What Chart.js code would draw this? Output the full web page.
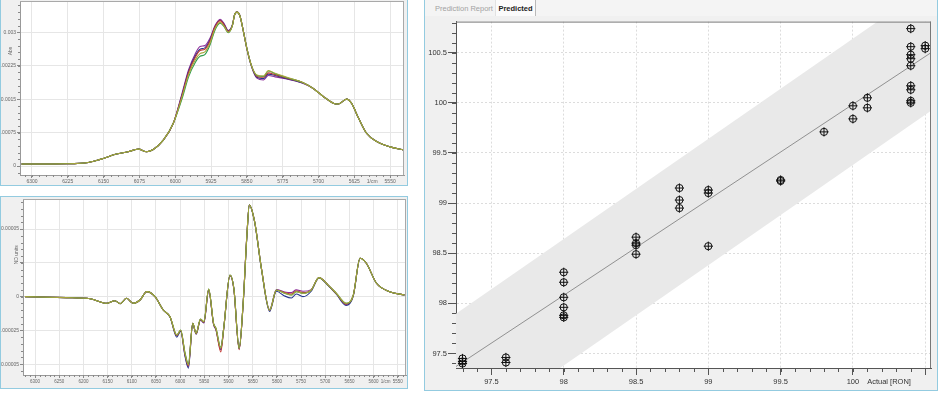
<!DOCTYPE html>
<html>
<head>
<meta charset="utf-8">
<title>NIR spectra and RON prediction</title>
<script src="https://cdn.jsdelivr.net/npm/chart.js@4.4.1/dist/chart.umd.min.js"></script>
<style>
  body { margin: 0; width: 950px; height: 394px; background: #fff; position: relative; overflow: hidden; font-family: "Liberation Sans", Arial, sans-serif; }
  .panel { position: absolute; box-sizing: border-box; border: 1px solid #93cbe0; background: #f0f0f0; }
  .panel canvas { position: absolute; left: 0; }
  #absPanel { left: 0; top: -1px; width: 408px; height: 187px; }
  #derPanel { left: 0; top: 196px; width: 408px; height: 193px; }
  #predPanel { left: 424px; top: -1px; width: 514px; height: 392px; }
  .tabs { position: absolute; left: 0; top: 0; right: 0; height: 16px; background: #f4f4f4; font-size: 7.5px; }
  .tab { position: absolute; top: 0; height: 16px; line-height: 17px; }
  .tab.off { left: 10px; color: #a3a3a3; }
  .tab.on { left: 70px; width: 39px; text-align: center; color: #222; font-weight: bold; background: #fbfbfb; border-right: 1px solid #b9b9b9; border-left: 1px solid #e2e2e2; }
</style>
</head>
<body>
<div class="panel" id="absPanel"><canvas id="absChart" width="406" height="185" style="top:0"></canvas></div>
<div class="panel" id="derPanel"><canvas id="derChart" width="406" height="191" style="top:0"></canvas></div>
<div class="panel" id="predPanel">
  <div class="tabs"><span class="tab off">Prediction Report</span><span class="tab on">Predicted</span></div>
  <canvas id="predChart" width="512" height="374" style="top:16px"></canvas>
</div>
<script>
// Absorbance spectra (top left)
const absWavenumbers = [6322, 6227, 6182, 6157, 6123, 6099, 6077, 6060, 6046, 6025, 6004, 5986, 5972, 5958, 5948, 5938, 5927, 5917, 5906, 5898, 5889, 5880, 5876, 5871, 5865, 5858, 5850, 5840, 5829, 5815, 5805, 5791, 5766, 5732, 5711, 5690, 5669, 5659, 5641, 5631, 5616, 5599, 5578, 5550, 5522];
const absOlive = [0.000045, 0.000052, 0.000082, 0.00015, 0.00027, 0.00032, 0.00038, 0.00032, 0.00037, 0.00058, 0.00096, 0.00154, 0.00205, 0.00238, 0.00252, 0.00256, 0.00276, 0.00307, 0.00322, 0.00314, 0.00300, 0.00316, 0.00338, 0.00345, 0.00338, 0.00306, 0.00264, 0.00224, 0.00204, 0.00202, 0.00214, 0.00208, 0.00199, 0.00187, 0.00174, 0.00156, 0.00141, 0.00139, 0.00150, 0.00141, 0.00107, 0.00073, 0.00055, 0.00043, 0.00036];
const absGreen = [0.000045, 0.000052, 0.000082, 0.00015, 0.00027, 0.00032, 0.00038, 0.00032, 0.00037, 0.00058, 0.00096, 0.00150, 0.00200, 0.00232, 0.00246, 0.00250, 0.00272, 0.00304, 0.00320, 0.00313, 0.00299, 0.00316, 0.00338, 0.00345, 0.00338, 0.00306, 0.00264, 0.00224, 0.00203, 0.00201, 0.00213, 0.00207, 0.00198, 0.00187, 0.00174, 0.00156, 0.00141, 0.00139, 0.00150, 0.00141, 0.00107, 0.00073, 0.00055, 0.00043, 0.00036];
const absRed = [0.000045, 0.000052, 0.000082, 0.00015, 0.00027, 0.00032, 0.00038, 0.00032, 0.00037, 0.00058, 0.00096, 0.00157, 0.00210, 0.00244, 0.00259, 0.00262, 0.00281, 0.00311, 0.00326, 0.00317, 0.00302, 0.00316, 0.00338, 0.00345, 0.00338, 0.00306, 0.00264, 0.00224, 0.00201, 0.00199, 0.00209, 0.00205, 0.00197, 0.00187, 0.00174, 0.00156, 0.00141, 0.00139, 0.00150, 0.00141, 0.00107, 0.00073, 0.00055, 0.00043, 0.00036];
const absBlue = [0.000045, 0.000052, 0.000082, 0.00015, 0.00027, 0.00032, 0.00038, 0.00032, 0.00037, 0.00058, 0.00096, 0.00159, 0.00212, 0.00247, 0.00262, 0.00265, 0.00283, 0.00312, 0.00327, 0.00318, 0.00303, 0.00317, 0.00338, 0.00345, 0.00338, 0.00306, 0.00264, 0.00223, 0.00199, 0.00196, 0.00206, 0.00203, 0.00196, 0.00186, 0.00174, 0.00156, 0.00141, 0.00139, 0.00150, 0.00141, 0.00107, 0.00073, 0.00055, 0.00043, 0.00036];
const absPurple = [0.000045, 0.000052, 0.000082, 0.00015, 0.00027, 0.00032, 0.00038, 0.00032, 0.00037, 0.00058, 0.00096, 0.00162, 0.00216, 0.00252, 0.00268, 0.00270, 0.00287, 0.00314, 0.00329, 0.00320, 0.00304, 0.00318, 0.00339, 0.00346, 0.00339, 0.00306, 0.00262, 0.00222, 0.00197, 0.00193, 0.00203, 0.00200, 0.00195, 0.00185, 0.00174, 0.00156, 0.00141, 0.00139, 0.00150, 0.00141, 0.00107, 0.00073, 0.00055, 0.00043, 0.00036];
const absXTicks = [6300, 6225, 6150, 6075, 6000, 5925, 5850, 5775, 5700, 5625, 5550];
const absYTicks = [0, 0.00075, 0.0015, 0.00225, 0.003];
const absYLabels = ['0', '0.00075', '0.0015', '0.00225', '0.003'];

// First derivative spectra (bottom left)
const derWavenumbers = [6321, 6235, 6186, 6152, 6135, 6124, 6111, 6097, 6083, 6069, 6052, 6035, 6021, 6007, 5999, 5990, 5983, 5974, 5967, 5958, 5951, 5941, 5931, 5926, 5916, 5910, 5897, 5889, 5878, 5870, 5862, 5857, 5846, 5832, 5815, 5801, 5784, 5770, 5760, 5746, 5729, 5713, 5694, 5677, 5657, 5642, 5628, 5615, 5594, 5567, 5536];
const derOlive = [0, -0.0000007, -0.0000015, -0.0000049, -0.0000030, -0.0000052, -0.0000012, -0.0000049, -0.0000025, 0.0000037, 0, -0.0000099, -0.0000148, -0.0000284, -0.0000247, -0.0000420, -0.0000505, -0.0000197, -0.0000271, -0.0000165, -0.0000185, 0.0000057, -0.0000197, -0.0000234, -0.0000382, -0.0000234, 0.0000160, 0.0000062, -0.0000382, -0.0000062, 0.0000456, 0.0000678, 0.0000555, 0.0000210, -0.0000099, 0.0000049, 0.0000025, 0.0000012, 0.0000037, 0.0000025, 0.0000049, 0.0000141, 0.0000086, 0.0000025, -0.0000049, 0.0000012, 0.0000284, 0.0000247, 0.0000099, 0.0000037, 0.0000012];
const derGreen = [0, -0.0000007, -0.0000015, -0.0000049, -0.0000030, -0.0000052, -0.0000012, -0.0000049, -0.0000025, 0.0000037, 0, -0.0000099, -0.0000148, -0.0000284, -0.0000247, -0.0000415, -0.0000498, -0.0000197, -0.0000271, -0.0000165, -0.0000185, 0.0000057, -0.0000197, -0.0000234, -0.0000375, -0.0000234, 0.0000160, 0.0000062, -0.0000382, -0.0000062, 0.0000450, 0.0000678, 0.0000555, 0.0000210, -0.0000099, 0.0000049, 0.0000025, 0.0000012, 0.0000037, 0.0000025, 0.0000049, 0.0000141, 0.0000086, 0.0000025, -0.0000049, 0.0000012, 0.0000284, 0.0000247, 0.0000099, 0.0000037, 0.0000012];
const derRed = [0, -0.0000007, -0.0000015, -0.0000049, -0.0000030, -0.0000052, -0.0000012, -0.0000049, -0.0000025, 0.0000037, 0, -0.0000099, -0.0000148, -0.0000288, -0.0000250, -0.0000425, -0.0000512, -0.0000197, -0.0000275, -0.0000168, -0.0000190, 0.0000052, -0.0000200, -0.0000240, -0.0000410, -0.0000238, 0.0000158, 0.0000060, -0.0000392, -0.0000064, 0.0000456, 0.0000678, 0.0000555, 0.0000210, -0.0000102, 0.0000047, 0.0000030, 0.0000020, 0.0000042, 0.0000030, 0.0000049, 0.0000141, 0.0000086, 0.0000022, -0.0000055, 0.0000010, 0.0000284, 0.0000247, 0.0000099, 0.0000037, 0.0000012];
const derBlue = [0, -0.0000007, -0.0000015, -0.0000049, -0.0000030, -0.0000052, -0.0000012, -0.0000049, -0.0000025, 0.0000037, 0, -0.0000099, -0.0000150, -0.0000300, -0.0000255, -0.0000440, -0.0000530, -0.0000200, -0.0000278, -0.0000170, -0.0000192, 0.0000050, -0.0000202, -0.0000242, -0.0000390, -0.0000236, 0.0000158, 0.0000060, -0.0000385, -0.0000066, 0.0000452, 0.0000678, 0.0000552, 0.0000205, -0.0000110, 0.0000040, 0.0000005, -0.0000010, 0.0000020, 0, 0.0000040, 0.0000138, 0.0000082, 0.0000018, -0.0000065, 0.0000005, 0.0000284, 0.0000247, 0.0000099, 0.0000037, 0.0000012];
const derPurple = [0, -0.0000007, -0.0000015, -0.0000049, -0.0000030, -0.0000052, -0.0000012, -0.0000049, -0.0000025, 0.0000037, 0, -0.0000099, -0.0000150, -0.0000290, -0.0000252, -0.0000432, -0.0000520, -0.0000198, -0.0000276, -0.0000172, -0.0000195, 0.0000048, -0.0000205, -0.0000245, -0.0000395, -0.0000240, 0.0000156, 0.0000058, -0.0000388, -0.0000065, 0.0000454, 0.0000678, 0.0000555, 0.0000212, -0.0000095, 0.0000052, 0.0000035, 0.0000030, 0.0000050, 0.0000040, 0.0000052, 0.0000141, 0.0000086, 0.0000022, -0.0000058, 0.0000010, 0.0000284, 0.0000247, 0.0000099, 0.0000037, 0.0000012];
const derXTicks = [6300, 6250, 6200, 6150, 6100, 6050, 6000, 5950, 5900, 5850, 5800, 5750, 5700, 5650, 5600, 5550];
const derYTicks = [-0.00005, -0.000025, 0, 0.000025, 0.00005];
const derYLabels = ['-0.00005', '-0.000025', '0', '', '0.00005'];

// Predicted vs actual RON (right)
const actualRON = [97.3, 97.3, 97.3, 97.6, 97.6, 98, 98, 98, 98, 98, 98, 98.5, 98.5, 98.5, 98.5, 98.8, 98.8, 98.8, 99, 99, 99, 99.5, 99.5, 99.8, 100, 100, 100.1, 100.1, 100.4, 100.4, 100.4, 100.4, 100.4, 100.4, 100.4, 100.4, 100.4, 100.5, 100.5];
const predictedRON = [97.45, 97.42, 97.40, 97.46, 97.41, 98.31, 98.21, 98.06, 97.96, 97.88, 97.86, 98.66, 98.60, 98.58, 98.49, 99.15, 99.03, 98.95, 99.13, 99.10, 98.57, 99.23, 99.22, 99.71, 99.97, 99.84, 100.05, 99.95, 100.74, 100.56, 100.48, 100.44, 100.37, 100.17, 100.13, 100.02, 100.00, 100.57, 100.54];
const fitActual = [97.255, 100.54];
const fitPredicted = [97.37, 100.50];
const bandActual = [97.2, 100.6];
const bandHigh = [97.84, 101.24];
const bandLow = [96.58, 99.98];
const ronTicks = [97.5, 98, 98.5, 99, 99.5, 100, 100.5];

const spectrumColors = ['#a8a53c', '#2f9c4a', '#c23a32', '#26358f', '#8d2c98'];

Chart.defaults.font.family = '"Liberation Sans", Arial, sans-serif';
Chart.defaults.color = '#555';
Chart.defaults.animation = false;

function pts(xs, ys) {
    return xs.map((x, i) => ({ x: x, y: ys[i] }));
}

// pin the axis boxes so the plot area sits where the screenshot has it
function fixSize(key, size) {
    return scale => {
        scale[key] = size;
        scale.paddingLeft = scale.paddingRight = scale.paddingTop = scale.paddingBottom = 0;
    };
}

const plotFrame = {
    id: 'plotFrame',
    beforeDraw(chart) {
        const a = chart.chartArea, ctx = chart.ctx;
        ctx.save();
        ctx.fillStyle = '#fff';
        ctx.fillRect(a.left, a.top, a.right - a.left, a.bottom - a.top);
        ctx.restore();
    },
    afterDraw(chart, args, opts) {
        const a = chart.chartArea, ctx = chart.ctx;
        ctx.save();
        ctx.strokeStyle = opts.color || '#999';
        ctx.lineWidth = 1;
        ctx.beginPath();
        ctx.moveTo(a.left, a.top + 0.5);
        ctx.lineTo(a.right, a.top + 0.5);
        ctx.moveTo(a.right - 0.5, a.top);
        ctx.lineTo(a.right - 0.5, a.bottom);
        ctx.stroke();
        ctx.restore();
    }
};

const minorTicks = {
    id: 'minorTicks',
    afterDraw(chart, args, opts) {
        const ctx = chart.ctx;
        ctx.save();
        ctx.strokeStyle = opts.color || '#777';
        ctx.lineWidth = 1;
        ctx.beginPath();
        ['x', 'y'].forEach(id => {
            const o = opts[id];
            if (!o) return;
            const s = chart.scales[id];
            const lo = Math.min(s.min, s.max), hi = Math.max(s.min, s.max);
            for (let k = Math.ceil(lo / o.step); k * o.step <= hi; k++) {
                const p = Math.round(s.getPixelForValue(k * o.step)) + 0.5;
                if (id === 'x') {
                    ctx.moveTo(p, s.top);
                    ctx.lineTo(p, s.top + o.len);
                } else {
                    ctx.moveTo(s.right, p);
                    ctx.lineTo(s.right - o.len, p);
                }
            }
        });
        ctx.stroke();
        ctx.restore();
    }
};

const sideTitle = {
    id: 'sideTitle',
    afterDraw(chart, args, opts) {
        if (!opts.text) return;
        const ctx = chart.ctx;
        ctx.save();
        ctx.translate(opts.left, chart.scales.y.getPixelForValue(opts.at));
        ctx.rotate(-Math.PI / 2);
        ctx.font = opts.size + 'px "Liberation Sans", Arial, sans-serif';
        ctx.fillStyle = '#666';
        ctx.textAlign = 'center';
        ctx.textBaseline = 'middle';
        ctx.fillText(opts.text, 0, 0);
        ctx.restore();
    }
};

function spectrumChart(canvasId, wn, series, cfg) {
    const unitAt = cfg.unitAt;
    return new Chart(document.getElementById(canvasId).getContext('2d'), {
        type: 'line',
        data: {
            datasets: series.map((ys, i) => ({
                data: pts(wn, ys),
                borderColor: spectrumColors[i],
                borderWidth: 1.1,
                pointRadius: 0,
                fill: false,
                cubicInterpolationMode: 'monotone'
            }))
        },
        options: {
            responsive: false,
            devicePixelRatio: 1,
            events: [],
            layout: { padding: cfg.padding },
            plugins: {
                legend: { display: false },
                tooltip: { enabled: false },
                plotFrame: { color: '#a9a9a9' },
                minorTicks: { color: '#888', x: { step: cfg.xMinor, len: 2 }, y: { step: cfg.yMinor, len: 2 } },
                sideTitle: { text: cfg.title, at: cfg.titleAt, left: cfg.titleLeft, size: 5 }
            },
            scales: {
                x: {
                    type: 'linear',
                    reverse: true,
                    min: cfg.xMin,
                    max: cfg.xMax,
                    afterBuildTicks: scale => {
                        scale.ticks = cfg.xTicks.map(v => ({ value: v })).concat([{ value: unitAt }]);
                    },
                    afterFit: fixSize('height', cfg.xHeight),
                    ticks: {
                        autoSkip: false, maxRotation: 0, minRotation: 0, padding: 1,
                        font: { size: cfg.xFont }, color: '#666',
                        callback: v => v === unitAt ? '1/cm' : String(v)
                    },
                    grid: {
                        color: c => c.tick && c.tick.value === unitAt ? 'rgba(0,0,0,0)' : '#e6e6e6',
                        tickColor: c => c.tick && c.tick.value === unitAt ? 'rgba(0,0,0,0)' : '#888',
                        tickLength: 3
                    },
                    border: { color: '#999' }
                },
                y: {
                    type: 'linear',
                    min: cfg.yMin,
                    max: cfg.yMax,
                    afterBuildTicks: scale => {
                        scale.ticks = cfg.yTicks.map(v => ({ value: v }));
                    },
                    afterFit: fixSize('width', cfg.yWidth),
                    ticks: {
                        padding: 1, font: { size: 5 }, color: '#666',
                        callback: (v, i) => cfg.yLabels[i]
                    },
                    grid: { color: '#e6e6e6', tickColor: '#888', tickLength: 3 },
                    border: { color: '#999' }
                }
            }
        },
        plugins: [plotFrame, minorTicks, sideTitle]
    });
}

spectrumChart('absChart', absWavenumbers, [absOlive, absGreen, absRed, absBlue, absPurple], {
    padding: { top: 1, right: 3, left: 0, bottom: 0 },
    xMin: 5521, xMax: 6325, xTicks: absXTicks, unitAt: 5587.5, xHeight: 10, xMinor: 15, xFont: 5,
    yMin: -0.0002, yMax: 0.0037, yTicks: absYTicks, yLabels: absYLabels, yWidth: 19, yMinor: 0.00015,
    title: 'Abs', titleAt: 0.00258, titleLeft: 10
});

spectrumChart('derChart', derWavenumbers, [derOlive, derGreen, derRed, derBlue, derPurple], {
    padding: { top: 2, right: 1, left: 0, bottom: 0 },
    xMin: 5533, xMax: 6325, xTicks: derXTicks, unitAt: 5575, xHeight: 13, xMinor: 10, xFont: 4.5,
    yMin: -0.000058, yMax: 0.0000723, yTicks: derYTicks, yLabels: derYLabels, yWidth: 22, yMinor: 0.000005,
    title: 'ND units', titleAt: 0.000031, titleLeft: 16
});

// Predicted vs actual
const ronLabelAt = 100.25;
new Chart(document.getElementById('predChart').getContext('2d'), {
    type: 'scatter',
    data: {
        datasets: [
            {
                data: pts(actualRON, predictedRON),
                pointStyle: 'cross',
                pointRadius: 4.6,
                pointBorderWidth: 1,
                pointBorderColor: '#111',
                borderColor: '#111'
            },
            {
                data: pts(actualRON, predictedRON),
                pointStyle: 'circle',
                pointRadius: 3.6,
                pointBorderWidth: 1,
                pointBorderColor: '#111',
                pointBackgroundColor: 'rgba(0,0,0,0)',
                borderColor: '#111'
            },
            {
                data: pts(fitActual, fitPredicted),
                showLine: true,
                borderColor: '#7a7a7a',
                borderWidth: 0.8,
                pointRadius: 0
            },
            {
                data: pts(bandActual, bandHigh),
                showLine: true,
                borderWidth: 0,
                borderColor: 'rgba(0,0,0,0)',
                backgroundColor: '#e9e9e9',
                pointRadius: 0,
                fill: '+1'
            },
            {
                data: pts(bandActual, bandLow),
                showLine: true,
                borderWidth: 0,
                borderColor: 'rgba(0,0,0,0)',
                pointRadius: 0
            }
        ]
    },
    options: {
        responsive: false,
        devicePixelRatio: 1,
        events: [],
        layout: { padding: { top: 1, right: 6, left: 0, bottom: 0 } },
        plugins: {
            legend: { display: false },
            tooltip: { enabled: false },
            plotFrame: { color: '#777' },
            minorTicks: { color: '#555', x: { step: 0.1, len: 4 }, y: { step: 0.1, len: 4 } }
        },
        scales: {
            x: {
                type: 'linear',
                min: 97.255,
                max: 100.54,
                afterBuildTicks: scale => {
                    scale.ticks = ronTicks.map(v => ({ value: v })).concat([{ value: ronLabelAt }]);
                },
                afterFit: fixSize('height', 22),
                ticks: {
                    autoSkip: false, maxRotation: 0, minRotation: 0, padding: 2,
                    font: { size: 7.5 }, color: '#333',
                    callback: v => v === ronLabelAt ? 'Actual [RON]' : (v >= 100.5 ? '' : String(v))
                },
                grid: {
                    color: c => c.tick && c.tick.value === ronLabelAt ? 'rgba(0,0,0,0)' : '#dcdcdc',
                    tickColor: c => c.tick && c.tick.value === ronLabelAt ? 'rgba(0,0,0,0)' : '#555',
                    tickLength: 7
                },
                border: { color: '#555', dash: [2, 2] }
            },
            y: {
                type: 'linear',
                min: 97.355,
                max: 100.81,
                afterBuildTicks: scale => {
                    scale.ticks = ronTicks.map(v => ({ value: v }));
                },
                afterFit: fixSize('width', 31),
                ticks: { padding: 1, font: { size: 7.5 }, color: '#333', callback: v => String(v) },
                grid: { color: '#dcdcdc', tickColor: '#555', tickLength: 8 },
                border: { color: '#555', dash: [2, 2] }
            }
        }
    },
    plugins: [plotFrame, minorTicks]
});
</script>
</body>
</html>
